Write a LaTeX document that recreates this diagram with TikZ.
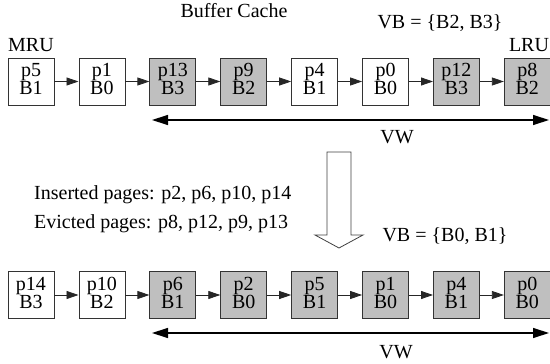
\documentclass[tikz,border=0pt]{standalone}
\usepackage{fontspec}
\setmainfont{Liberation Serif}
\usetikzlibrary{arrows.meta}
\tikzset{
  pagebox/.style={draw=black!80, line width=0.8pt, minimum width=46pt, minimum height=47pt, inner sep=0pt,
    align=center, font=\fontsize{20}{18}\selectfont, text depth=4.5pt},
  wbox/.style={pagebox, fill=white},
  gbox/.style={pagebox, fill=black!25},
  lbl/.style={inner sep=0pt, anchor=base, font=\fontsize{20}{22}\selectfont},
  lnk/.style={draw=black!85, line width=0.8pt, -{Triangle[length=12pt,width=8pt]}},
  span/.style={draw=black, line width=1.3pt, {Triangle[length=16pt,width=10pt]}-{Triangle[length=16pt,width=10pt]}},
}
\begin{document}
\begin{tikzpicture}[x=1pt,y=-1pt]
\useasboundingbox (0,0) rectangle (550,364);
% top row
\foreach \i/\p/\b/\s in {1/p5/B1/wbox,2/p1/B0/wbox,3/p13/B3/gbox,4/p9/B2/gbox,5/p4/B1/wbox,6/p0/B0/wbox,7/p12/B3/gbox,8/p8/B2/gbox}{
  \node[\s] (t\i) at ({31+70.9*(\i-1)},81.5) {\p\\\b};
}
\foreach \i [evaluate=\i as \j using int(\i+1)] in {1,...,7}{
  \draw[lnk] (t\i.east) -- (t\j.west);
}
% bottom row
\foreach \i/\p/\b/\s in {1/p14/B3/wbox,2/p10/B2/wbox,3/p6/B1/gbox,4/p2/B0/gbox,5/p5/B1/gbox,6/p1/B0/gbox,7/p4/B1/gbox,8/p0/B0/gbox}{
  \node[\s] (b\i) at ({31+70.9*(\i-1)},295) {\p\\\b};
}
\foreach \i [evaluate=\i as \j using int(\i+1)] in {1,...,7}{
  \draw[lnk] (b\i.east) -- (b\j.west);
}
% window arrows
\coordinate (twl) at (152,120);
\coordinate (twr) at (549,120);
\draw[span] (twl) -- (twr);
\coordinate (bwl) at (152,333);
\coordinate (bwr) at (549,333);
\draw[span] (bwl) -- (bwr);
% labels
\node[lbl] (title) at (234,17) {Buffer Cache};
\node[lbl] (vbt) at (440,28) {VB = \{B2, B3\}};
\node[lbl] (mru) at (31,52) {MRU};
\node[lbl] (lru) at (529,52) {LRU};
\node[lbl] (vwt) at (397,143) {VW};
\node[lbl] (vwb) at (396,358) {VW};
\node[lbl, anchor=base west] (ins) at (34,199) {Inserted pages: p2, p6, p10, p14};
\node[lbl, anchor=base west] (evi) at (34,228) {Evicted pages: p8, p12, p9, p13};
\node[lbl] (vbb) at (445,241) {VB = \{B0, B1\}};
% hollow arrow
\draw[draw=black!75, line width=0.8pt, fill=white] (327,152) -- (351,152) -- (351,235) -- (363,235) -- (339,248) -- (315,235) -- (327,235) -- cycle;
\end{tikzpicture}
\end{document}
